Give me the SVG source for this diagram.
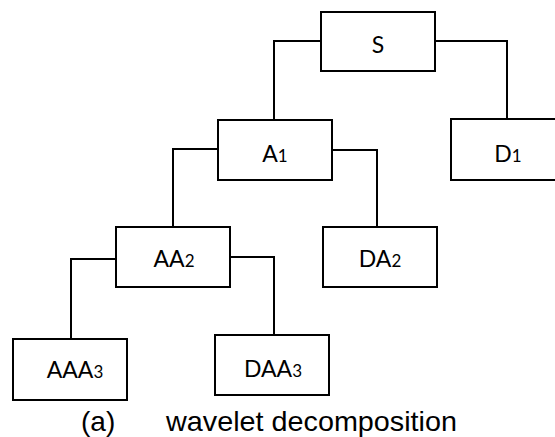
<svg xmlns="http://www.w3.org/2000/svg" width="555" height="437" viewBox="0 0 555 437">
  <style>
    .box { fill: #ffffff; stroke: #000000; stroke-width: 2; }
    .wire { fill: none; stroke: #000000; stroke-width: 2; }
    .lbl { font-family: Lato, "Liberation Sans", sans-serif; font-size: 23px; fill: #000000; text-anchor: middle; }
    .sub { font-size: 17px; }
    .cap { font-family: "Liberation Sans", Arial, sans-serif; font-size: 28px; fill: #000000; }
  </style>
  <rect width="555" height="437" fill="#ffffff"/>

  <!-- tree connectors -->
  <g id="connectors">
    <polyline class="wire" points="321,41 274,41 274,120"/>
    <polyline class="wire" points="435,41 507,41 507,119"/>
    <polyline class="wire" points="218,149 173,149 173,227"/>
    <polyline class="wire" points="332,150 377,150 377,228"/>
    <polyline class="wire" points="116,259 71,259 71,339"/>
    <polyline class="wire" points="230,257 274,257 274,335"/>
  </g>

  <g id="node-S">
    <rect class="box" x="321" y="12" width="114" height="59"/>
    <text class="lbl" x="378" y="53">S</text>
  </g>
  <g id="node-A1">
    <rect class="box" x="218" y="120" width="114" height="60"/>
    <text class="lbl" x="275" y="162">A<tspan class="sub">1</tspan></text>
  </g>
  <g id="node-D1">
    <rect class="box" x="451" y="119" width="114" height="61"/>
    <text class="lbl" x="508" y="162">D<tspan class="sub">1</tspan></text>
  </g>
  <g id="node-AA2">
    <rect class="box" x="116" y="227" width="114" height="60"/>
    <text class="lbl" x="174" y="267">AA<tspan class="sub">2</tspan></text>
  </g>
  <g id="node-DA2">
    <rect class="box" x="323" y="227" width="114" height="60"/>
    <text class="lbl" x="380" y="267">DA<tspan class="sub">2</tspan></text>
  </g>
  <g id="node-AAA3">
    <rect class="box" x="13" y="339" width="114" height="61"/>
    <text class="lbl" x="75" y="378">AAA<tspan class="sub">3</tspan></text>
  </g>
  <g id="node-DAA3">
    <rect class="box" x="215" y="335" width="114" height="60"/>
    <text class="lbl" x="273" y="377">DAA<tspan class="sub">3</tspan></text>
  </g>

  <!-- caption -->
  <text class="cap" x="81" y="431">(a)</text>
  <text class="cap" x="166" y="431" textLength="291" lengthAdjust="spacingAndGlyphs">wavelet decomposition</text>
</svg>
